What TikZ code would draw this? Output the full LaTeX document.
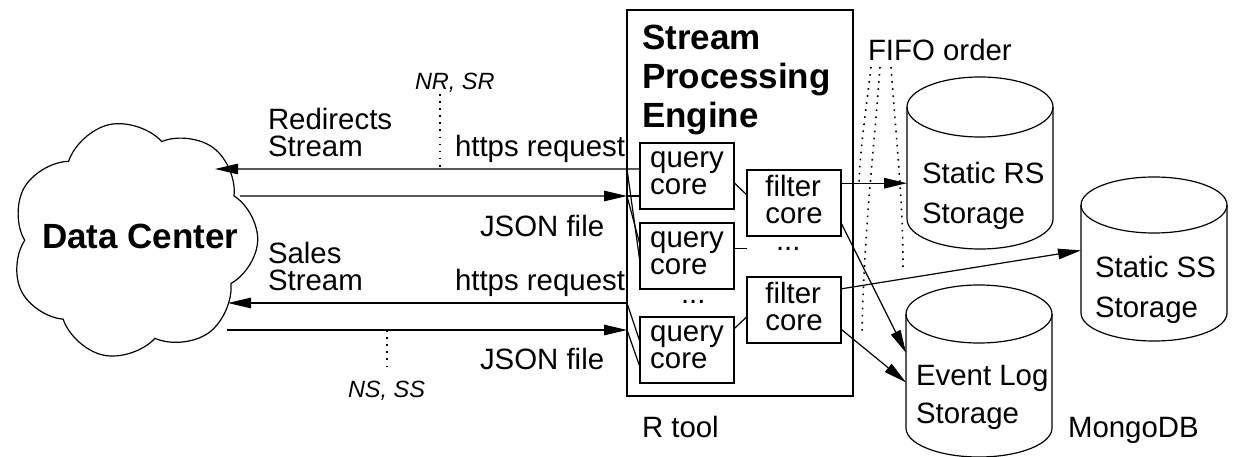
\documentclass[tikz,border=0pt]{standalone}
\usepackage{fontspec}
\setmainfont{Liberation Sans}
\usetikzlibrary{arrows.meta,shapes.symbols,calc}
\newcommand\dbcyl[5]{%
  \node[minimum width=146pt, minimum height=#4pt, anchor=north] (#1) at (#2,#3) {};
  \draw[line] (#1.north west) -- (#1.south west) arc[start angle=180, end angle=0, x radius=73, y radius=#5] -- (#1.north east);
  \draw[line] (#1.north) ellipse[x radius=73, y radius=#5];
}
\begin{document}
\begin{tikzpicture}[x=1pt,y=-1pt,
  every node/.style={inner sep=0pt, outer sep=0pt},
  lbl/.style={anchor=base west, font=\fontsize{29.4}{27}\selectfont},
  ttl/.style={anchor=base west, font=\bfseries\fontsize{35}{39}\selectfont},
  itl/.style={anchor=base west, font=\itshape\fontsize{23.5}{24}\selectfont},
  corebox/.style={draw, line width=1.2pt, minimum width=94pt, minimum height=66pt, anchor=north west, align=left, font=\fontsize{29.4}{27}\selectfont},
  line/.style={line width=1.2pt},
  arr/.style={line width=1.2pt, -{Triangle[length=23pt,width=10.5pt]}},
  dots/.style={line width=1.6pt, dash pattern=on 1.6pt off 5.5pt},
]
\useasboundingbox (0,0) rectangle (1233,457);

% cloud
\node[cloud, cloud puffs=7, cloud puff arc=120, aspect=1.05, draw, line width=1.2pt, minimum width=248pt, minimum height=236pt, rotate=12] (dc) at (134,240) {};
\node[ttl] (dctext) at (42,248) {Data Center};

% engine
\node[draw, line width=1.2pt, minimum width=226pt, minimum height=386pt, anchor=north west] (eng) at (627,10) {};
\node[ttl] (t1) at (642,50) {Stream};
\node[ttl] (t2) at (642,89) {Processing};
\node[ttl] (t3) at (642,128) {Engine};

\node[corebox] (q1) at (640,143) {\strut query\\\strut core};
\node[corebox] (q2) at (640,223) {\strut query\\\strut core};
\node[corebox] (q3) at (640,317) {\strut query\\\strut core};
\node[corebox] (f1) at (747,170) {\strut filter\\\strut core};
\node[corebox] (f2) at (747,277) {\strut filter\\\strut core};
\node[lbl] (qdots) at (681,303) {...};
\node[lbl] (fdots) at (776,250) {...};

% storages
\dbcyl{rs}{980}{107}{112}{30}
\dbcyl{ss}{1154}{205}{108}{28}
\dbcyl{el}{979}{314}{114}{29}
\node[lbl] (rsl1) at (922,183) {Static RS};
\node[lbl] (rsl2) at (922,223) {Storage};
\node[lbl] (ssl1) at (1095,277) {Static SS};
\node[lbl] (ssl2) at (1095,317) {Storage};
\node[lbl] (ell1) at (916,385) {Event Log};
\node[lbl] (ell2) at (916,423) {Storage};

% labels
\node[itl] (nrsr) at (415,90) {NR, SR};
\node[itl] (nsss) at (348,397) {NS, SS};
\node[lbl] (rs1) at (268,130) {Redirects};
\node[lbl] (rs2) at (268,157) {Stream};
\node[lbl, anchor=base east] (req1) at (625,157) {https request};
\node[lbl] (json1) at (480,236) {JSON file};
\node[lbl] (ss1) at (268,263) {Sales};
\node[lbl] (ss2) at (268,290) {Stream};
\node[lbl, anchor=base east] (req2) at (625,290) {https request};
\node[lbl] (json2) at (480,369) {JSON file};
\node[lbl] (fifo) at (868,61) {FIFO order};
\node[lbl] (rtool) at (642,437) {R tool};
\node[lbl] (mongo) at (1068,437) {MongoDB};

% cloud attachment points
\coordinate (dcA) at (215,169);
\coordinate (dcB) at (240,196);
\coordinate (dcC) at (228,303);
\coordinate (dcD) at (227,330);

% redirects stream
\coordinate (q1a) at ($(q1.north west)!0.394!(q1.south west)$);
\coordinate (q1b) at ($(q1.north west)!0.803!(q1.south west)$);
\draw[arr] (q1a) -- (dcA);
\draw[arr] (dcB) -- (eng.west |- q1b);
\draw[line] (eng.west |- q1b) -- (q1b);
\draw[line] (eng.west |- q1a) -- ($(q2.north west)!0.6!(q2.south west)$);
\draw[line] (eng.west |- q1b) -- ($(q2.north west)!0.33!(q2.south west)$);

% sales stream
\draw[arr] (eng.west |- dcC) -- (dcC);
\draw[arr] (dcD) -- (eng.west |- dcD);
\draw[line] (eng.west |- dcC) -- ($(q3.north west)!0.38!(q3.south west)$);
\draw[line] (eng.west |- dcD) -- ($(q3.north west)!0.76!(q3.south west)$);

% NR/SR and NS/SS markers
\coordinate (nrtop) at (440,94);
\draw[dots] (nrtop) -- (nrtop |- dcA);
\coordinate (nsbot) at (387,368);
\draw[dots] (nsbot |- dcD) -- (nsbot);

% query -> filter
\draw[line] ($(q1.north east)!0.6!(q1.south east)$) -- ($(f1.north west)!0.38!(f1.south west)$);
\coordinate (q2o) at ($(q2.north east)!0.39!(q2.south east)$);
\draw[line] (q2o) -- (f1.west |- q2o);
\draw[line] ($(q3.north east)!0.18!(q3.south east)$) -- ($(f2.north west)!0.6!(f2.south west)$);

% filter -> storage
\coordinate (f1a) at ($(f1.north east)!0.2!(f1.south east)$);
\draw[arr] (f1a) -- (rs.west |- f1a);
\draw[arr] ($(f1.north east)!0.8!(f1.south east)$) -- ($(el.north west)!0.34!(el.south west)$);
\draw[arr] ($(f2.north east)!0.18!(f2.south east)$) -- ($(ss.north west)!0.42!(ss.south west)$);
\draw[arr] ($(f2.north east)!0.79!(f2.south east)$) -- ($(el.north west)!0.6!(el.south west)$);

% FIFO order dotted curves
\draw[dots] (871,67) .. controls (866,110) and (860,150) .. (859,183);
\draw[dots] (880,67) .. controls (874,150) and (864,230) .. (862,333);
\draw[dots] (891,67) .. controls (897,150) and (903,200) .. (903,270);
\end{tikzpicture}
\end{document}
